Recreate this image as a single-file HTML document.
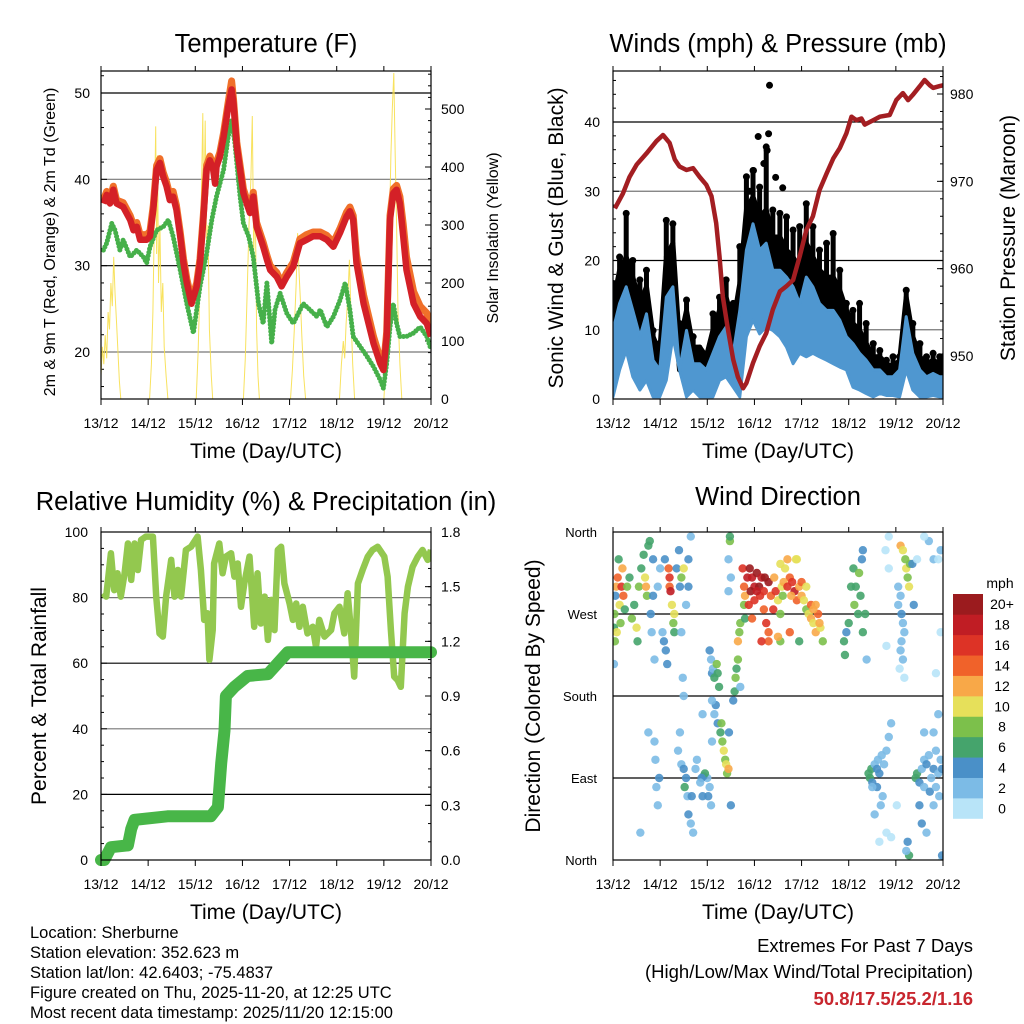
<!DOCTYPE html>
<html><head><meta charset="utf-8"><style>
html,body{margin:0;padding:0;background:#fff;}
svg{display:block;font-family:"Liberation Sans",Arial,sans-serif;}
</style></head><body>
<svg id="chart" width="1024" height="1024" viewBox="0 0 1024 1024" xmlns="http://www.w3.org/2000/svg"></svg>
<script>
// ---------- DATA ----------
const dayLabels=["13/12","14/12","15/12","16/12","17/12","18/12","19/12","20/12"];
const tempTicks=[20,30,40,50];
const solarTicks=[0,100,200,300,400,500];
const windTicks=[0,10,20,30,40];
const pressTicks=[950,960,970,980];
const rhTicks=[0,20,40,60,80,100];
const precipTicks=["0.0","0.3","0.6","0.9","1.2","1.5","1.8"];
const dirTicks=[0,90,180,270,360];
const dirTickLabels=["North","East","South","West","North"];
const speedLabels=["0","2","4","6","8","10","12","14","16","18","20+"];
const speedColors=["#b8e4f8","#7cbbe6","#4a90c8","#45a46c","#7cc04b","#e6e05a","#f8a848","#f0622a","#dd3326","#c01d24","#9b1b1e"];

const tDays=[0.05,0.12,0.19,0.26,0.33,0.47,0.62,0.69,0.76,0.83,0.97,1.04,1.11,1.18,1.25,1.32,1.39,1.46,1.53,1.60,1.68,1.75,1.82,1.92,2.03,2.10,2.17,2.24,2.31,2.38,2.42,2.45,2.52,2.60,2.70,2.77,2.81,2.88,2.95,3.02,3.09,3.16,3.23,3.30,3.44,3.52,3.59,3.73,3.83,3.94,4.08,4.22,4.36,4.50,4.65,4.79,4.93,5.07,5.21,5.28,5.35,5.42,5.57,5.78,5.92,5.99,6.06,6.13,6.20,6.27,6.34,6.41,6.48,6.63,6.77,6.91,7.0];
const tempRed=[37.2,38.2,37.2,38.8,37.2,36.8,35.3,34.1,34.5,33.0,33.0,33.4,36.5,41.1,41.9,40.3,39.2,37.6,38.0,36.5,33.4,30.3,28.0,25.6,27.6,30.3,35.3,41.1,42.2,41.1,39.5,41.5,42.6,44.9,48.4,50.4,48.8,43.8,41.1,38.4,37.2,36.1,38.0,34.5,32.2,30.7,29.5,28.7,27.6,28.7,29.9,32.6,33.0,33.4,33.4,33.0,32.2,33.8,35.7,36.3,35.3,30.3,25.6,21.0,18.7,17.9,21.8,35.3,38.4,38.8,37.2,33.4,29.5,25.6,24.1,23.3,21.8];
const tempOrange=[37.6,38.6,37.7,39.2,37.6,37.3,35.8,34.7,35.0,33.6,33.6,34.0,37.0,41.6,42.4,40.8,39.7,38.2,38.6,37.0,33.9,30.8,28.5,26.0,28.0,30.8,35.8,41.6,42.7,41.6,40.0,42.0,43.1,45.4,49.0,51.4,49.3,44.3,41.6,38.9,37.7,36.6,38.5,35.0,32.7,31.2,30.0,29.2,28.0,29.2,30.4,33.1,33.6,33.9,33.9,33.5,32.7,34.3,36.2,36.8,35.8,31.2,26.6,21.8,19.3,18.3,22.3,35.8,38.9,39.3,38.0,34.8,31.0,27.0,25.3,24.5,22.8];
const tdDays=[0.05,0.12,0.23,0.30,0.40,0.47,0.62,0.76,0.90,0.97,1.04,1.18,1.32,1.43,1.53,1.68,1.82,1.96,2.03,2.10,2.24,2.35,2.45,2.60,2.70,2.77,2.84,2.95,3.02,3.13,3.23,3.34,3.44,3.52,3.62,3.69,3.80,3.94,4.08,4.19,4.29,4.43,4.58,4.65,4.79,4.93,5.07,5.18,5.28,5.35,5.50,5.64,5.78,5.92,5.99,6.06,6.13,6.20,6.27,6.34,6.48,6.63,6.77,6.91,7.0];
const tdVals=[31.8,32.6,34.9,34.1,31.8,33.0,31.0,31.8,31.0,30.3,32.2,34.1,34.5,35.3,33.4,29.5,25.6,22.2,24.9,27.6,31.4,35.3,38.0,41.1,45.0,46.9,44.2,38.0,34.9,33.4,31.0,25.6,23.3,28.0,21.0,24.9,26.8,24.5,23.3,24.5,25.6,24.9,24.1,24.9,22.9,24.1,26.0,28.0,24.9,21.8,20.6,19.5,18.3,16.8,15.8,18.7,22.9,25.6,23.3,21.8,21.8,22.2,22.9,21.8,20.3];
const solarDays=[0.00,0.03,0.06,0.09,0.12,0.15,0.18,0.21,0.24,0.27,0.30,0.33,0.36,0.39,0.42,1.03,1.07,1.10,1.13,1.16,1.18,1.20,1.22,1.25,1.28,1.31,1.34,1.38,1.42,2.02,2.06,2.10,2.13,2.16,2.18,2.21,2.24,2.27,2.30,2.34,2.37,3.02,3.06,3.10,3.14,3.18,3.21,3.24,3.27,3.30,3.33,3.36,4.02,4.06,4.10,4.14,4.17,4.20,4.23,4.26,4.30,4.34,5.06,5.10,5.14,5.17,5.20,5.24,5.27,5.30,5.34,5.38,6.00,6.04,6.08,6.12,6.15,6.18,6.21,6.24,6.27,6.30,6.34,6.38];
const solarVals=[40,90,60,110,70,150,120,200,160,245,180,130,80,30,0,0,60,150,300,470,250,420,200,300,150,200,90,40,0,0,80,200,350,493,300,480,250,300,120,40,0,0,70,180,300,380,488,250,350,120,40,0,0,50,120,200,286,220,170,110,40,0,0,60,100,70,130,180,240,150,60,0,0,60,150,300,420,500,562,420,300,150,60,0];

const pDays=[0.04,0.21,0.35,0.50,0.71,0.92,1.06,1.20,1.31,1.41,1.56,1.70,1.84,1.98,2.09,2.19,2.26,2.33,2.44,2.55,2.65,2.76,2.83,2.97,3.11,3.25,3.39,3.54,3.68,3.82,3.96,4.10,4.24,4.38,4.53,4.67,4.81,4.95,5.06,5.16,5.27,5.34,5.52,5.66,5.87,6.01,6.15,6.26,6.36,6.51,6.61,6.72,6.79,6.93,7.0];
const pVals=[966.9,968.6,970.5,971.9,973.2,974.6,975.3,974.4,972.5,971.7,971.3,971.5,970.5,969.6,968.3,965.2,961.4,956.8,953.0,949.6,947.6,946.3,946.9,949.2,951.1,952.6,955.3,957.4,958.0,958.7,961.4,964.4,966.0,969.0,970.9,972.6,973.8,975.5,977.4,977.0,977.2,976.5,977.0,977.4,977.6,979.3,980.1,979.3,979.9,980.9,981.6,981.0,980.7,980.9,981.0];
const wDays=[0,0.14,0.28,0.42,0.57,0.71,0.85,0.99,1.13,1.27,1.41,1.56,1.70,1.84,1.98,2.12,2.26,2.40,2.55,2.69,2.83,2.97,3.11,3.25,3.39,3.54,3.68,3.82,3.96,4.10,4.24,4.38,4.53,4.67,4.81,4.95,5.09,5.23,5.37,5.52,5.66,5.80,5.94,6.08,6.22,6.36,6.51,6.65,6.79,6.93,7.0];
const windHigh=[9.9,13.8,16.2,12.8,9.0,12.3,5.6,4.2,14.7,16.2,4.2,9.9,5.1,5.1,4.2,6.6,9.0,10.4,6.6,12.8,21.5,25.3,21.5,22.5,18.6,18.6,17.6,16.2,13.8,17.6,16.2,13.8,12.8,12.8,11.4,9.0,8.0,6.6,5.6,4.2,4.2,3.2,3.2,4.2,11.9,6.6,4.2,3.2,3.7,3.2,3.2];
const windLow=[0.3,4.2,7.0,3.2,1.3,2.7,0.3,0.3,2.7,9.0,4.2,0.3,1.3,0.3,0.3,0.3,2.7,3.2,1.7,0.3,9.0,11.4,9.4,10.4,9.9,9.0,7.5,5.1,6.6,6.1,6.6,6.1,5.6,5.1,4.6,4.2,1.7,1.3,0.8,0.3,0.8,0.5,0.5,0.3,4.2,1.3,0.3,0.3,0.5,0.3,0.3];
const gustMid=[13.8,18.6,20.5,17.6,13.8,16.2,9.0,6.6,20.5,22.5,8.0,12.8,7.5,7.5,6.1,9.9,12.8,14.7,10.9,16.7,27.3,29.2,26.3,27.3,23.4,23.4,21.5,20.5,18.6,22.5,20.5,18.6,17.6,17.6,15.7,12.8,10.9,9.9,8.0,6.1,6.1,5.1,4.6,5.6,14.7,9.0,6.1,5.1,5.6,5.1,5.1];
const gustHigh=[16.7,20.5,26.8,20.0,17.2,18.6,9.9,8.0,25.8,25.3,10.9,14.3,9.0,6.6,5.1,12.3,14.7,17.2,13.8,22.0,32.1,33.0,30.6,36.4,27.3,26.8,26.3,24.4,24.9,28.2,24.9,21.5,22.5,23.9,18.6,13.8,12.8,13.8,10.9,8.0,7.0,5.6,6.1,6.1,15.7,10.9,8.0,6.1,6.6,6.1,6.1];
const gustOutDays=[3.32,3.08,3.30,3.27,2.98,3.20,3.45,2.90,3.60];
const gustOutVals=[45.3,37.9,38.3,35.9,33.0,34.0,32.0,30.0,30.5];

const rhDays=[0.04,0.11,0.21,0.28,0.35,0.42,0.50,0.57,0.64,0.71,0.78,0.85,0.95,1.10,1.17,1.24,1.31,1.38,1.49,1.56,1.63,1.70,1.80,1.91,2.05,2.12,2.19,2.26,2.30,2.37,2.40,2.51,2.58,2.65,2.76,2.83,2.90,2.97,3.04,3.15,3.25,3.32,3.39,3.47,3.54,3.61,3.68,3.75,3.82,3.89,4.00,4.07,4.14,4.21,4.28,4.38,4.49,4.56,4.63,4.74,4.88,4.95,5.06,5.16,5.23,5.30,5.37,5.45,5.55,5.66,5.76,5.87,6.01,6.08,6.15,6.22,6.29,6.36,6.44,6.51,6.61,6.72,6.82,6.93,7.0];
const rhVals=[81.3,80.3,93.5,82.3,87.4,80.3,87.4,96.5,85.4,96.5,88.4,97.6,98.6,98.6,80.3,69.1,68.1,80.3,91.5,80.3,88.4,80.3,94.5,95.5,98.6,88.4,73.2,75.2,61.0,70.1,90.4,96.5,87.4,92.5,93.5,86.4,90.4,77.2,84.3,92.5,71.1,87.4,72.1,80.3,67.1,79.3,70.1,94.5,95.5,84.3,78.2,73.2,78.2,71.1,77.2,69.1,71.1,65.0,73.2,68.1,70.1,75.2,77.2,69.1,81.3,70.1,55.9,84.3,88.4,92.5,94.5,95.5,92.5,86.4,70.1,55.9,54.9,52.8,75.2,83.3,89.4,92.5,94.5,91.5,94.5];
const prDays=[0,0.07,0.21,0.57,0.64,0.71,1.41,2.33,2.48,2.55,2.62,2.65,2.83,3.11,3.54,3.75,3.96,7.0];
const prVals=[0,0.0,0.07,0.08,0.17,0.22,0.24,0.24,0.29,0.53,0.71,0.90,0.95,1.01,1.02,1.08,1.14,1.14];

const dirObs=[[0.02,255,6],[0.03,270,8],[0.05,290,4],[0.07,300,12],[0.1,310,14],[0.12,330,6],[0.14,280,10],[0.16,260,8],[0.18,300,16],[0.2,320,12],[0.22,290,14],[0.25,275,6],[0.04,240,8],[0.08,250,10],[0.3,300,8],[0.35,310,6],[0.02,215,2],
[0.4,265,8],[0.45,280,6],[0.5,255,10],[0.52,240,6],[0.55,300,8],[0.6,320,6],[0.65,335,6],[0.68,310,10],[0.7,300,12],[0.72,290,8],[0.75,345,6],[0.78,350,6],[0.8,270,4],[0.82,250,2],[0.85,290,4],[0.85,330,4],[0.88,220,2],[0.88,130,2],[0.9,110,2],[0.92,80,2],[0.95,60,2],[0.98,90,4],[0.58,30,2],[0.75,140,2],[0.95,300,2],[1.0,320,2],
[1.1,330,4],[1.05,250,2],[1.08,240,4],[1.12,230,4],[1.15,215,4],[1.2,310,16],[1.2,300,14],[1.22,295,18],[1.18,320,14],[1.25,280,10],[1.28,260,8],[1.3,270,10],[1.3,250,6],[1.35,320,4],[1.4,340,4],[1.42,300,4],[1.45,310,8],[1.5,320,10],[1.55,280,2],[1.6,300,4],[1.6,330,4],[1.65,355,2],[1.45,250,2],[1.48,200,2],[1.5,180,2],[1.42,140,2],[1.38,120,2],[1.45,105,2],[1.5,100,4],[1.55,90,4],[1.52,80,6],[1.58,70,2],[1.6,50,4],[1.65,40,2],[1.7,30,2],[1.67,70,4],[1.75,100,2],[1.78,110,2],
[2.05,230,4],[2.08,220,2],[2.1,205,4],[2.12,210,2],[2.15,200,6],[2.2,215,8],[2.22,205,6],[2.25,190,6],[2.18,170,4],[2.15,160,2],[2.1,175,2],[2.22,150,4],[2.28,140,6],[2.3,150,8],[2.32,130,8],[2.35,120,10],[2.38,110,8],[2.4,105,10],[2.42,95,8],[2.45,100,12],[2.46,140,4],[2.5,60,4],[2.55,175,4],[2.58,185,6],[2.6,200,8],[2.62,210,6],[2.65,220,8],[2.65,240,12],[2.68,250,8],[2.7,260,8],[2.7,190,2],[2.48,350,8],[2.48,355,6],[2.5,310,2],[2.45,295,2],[2.45,330,2],[2.0,90,2],[2.05,80,2],[2.02,70,4],[2.08,60,2],[1.92,92,4],[1.95,95,6],[1.88,90,4],[1.85,85,2],[1.9,70,4],[1.9,160,2],[2.1,130,2],
[2.75,320,16],[2.78,300,14],[2.8,290,12],[2.78,280,8],[2.8,265,6],[2.85,310,18],[2.9,320,20],[2.95,310,18],[3.0,300,18],[3.0,285,16],[3.05,315,20],[3.1,300,20],[3.12,290,16],[3.15,310,18],[3.2,295,16],[3.2,275,14],[3.25,260,16],[3.3,250,14],[3.3,305,20],[3.35,290,14],[3.4,275,16],[3.42,310,12],[3.45,295,16],[3.5,285,10],[3.55,270,8],[3.58,300,10],[3.6,290,8],[3.65,320,10],[3.7,330,12],[3.75,310,14],[3.8,305,16],[3.85,295,18],[3.9,285,14],[3.95,300,12],[4.0,290,12],[4.05,285,10],[4.1,275,8],[4.15,270,10],[4.2,265,12],[4.25,260,10],[4.3,250,12],[4.35,270,14],[4.4,255,10],[4.45,240,8],[3.55,240,8],[3.95,240,6],[3.5,245,12],[3.75,250,14],[3.9,330,10],[4.0,305,14],[3.3,240,14],[3.15,240,16],[2.95,265,14],[4.1,300,10],[4.2,280,14],[4.3,280,12],[3.88,330,10],[3.55,325,10],[2.92,295,20],[3.05,295,18],[3.22,310,20],[2.88,280,16],[3.62,305,12],[3.7,300,16],[3.78,290,12],[4.25,275,12],[4.38,260,12],
[4.9,240,6],[4.92,225,6],[4.95,250,4],[5.0,260,6],[5.05,300,6],[5.1,320,6],[5.12,280,8],[5.15,300,6],[5.2,270,6],[5.22,315,8],[5.25,290,6],[5.28,330,4],[5.3,340,4],[5.3,250,6],[5.35,270,6],[5.38,220,2],
[5.42,95,6],[5.45,90,6],[5.48,100,6],[5.5,85,4],[5.55,105,2],[5.6,100,4],[5.62,110,2],[5.65,95,4],[5.7,115,2],[5.75,105,2],[5.8,120,2],[5.85,135,2],[5.9,150,2],[5.6,80,4],[5.72,70,2],[5.68,60,2],[5.8,30,0],[5.9,25,0],[5.65,20,0],[5.5,80,2],[5.55,50,2],[5.85,320,0],[5.78,340,0],[5.85,355,0],[5.8,235,0],
[6.1,345,12],[6.15,340,10],[6.2,330,8],[6.22,320,10],[6.25,310,8],[6.28,300,10],[6.3,325,8],[6.1,290,2],[6.05,280,2],[6.12,270,4],[6.15,260,2],[6.18,250,2],[6.12,240,2],[6.1,230,2],[6.08,210,0],[6.15,220,2],[6.18,200,0],[6.05,300,2],[6.35,325,4],[6.38,280,4],[6.25,20,4],[6.28,5,6],[6.22,10,2],[6.02,60,0],
[6.42,90,6],[6.45,95,6],[6.5,85,4],[6.55,100,2],[6.6,110,2],[6.65,105,4],[6.7,115,2],[6.75,90,2],[6.8,100,4],[6.85,120,2],[6.9,95,2],[6.95,110,2],[6.98,100,4],[6.6,80,2],[6.72,75,4],[6.85,80,2],[6.5,60,4],[6.55,40,4],[6.65,30,2],[6.8,60,2],[6.92,70,2],[6.6,140,2],[6.8,140,2],[6.9,160,2],[6.7,350,2],[6.8,330,2],[6.95,340,2],[6.95,250,0],[6.9,330,0],[6.98,0,0],[6.98,5,4],[6.45,330,0],[6.6,355,0],[6.85,205,0]];
const dirDays=dirObs.map(o=>o[0]);
const dirVals=dirObs.map(o=>o[1]);
const dirSpeeds=dirObs.map(o=>o[2]);

// ---------- HELPERS ----------
const NS="http://www.w3.org/2000/svg";
const svg=document.getElementById('chart');
function mk(tag,attrs,parent){const e=document.createElementNS(NS,tag);for(const k in attrs)e.setAttribute(k,attrs[k]);(parent||svg).appendChild(e);return e;}
function txt(s,x,y,size,anchor,parent,extra){const t=mk('text',Object.assign({x:x,y:y,'font-size':size,'text-anchor':anchor||'middle',fill:'#000'},extra||{}),parent);t.textContent=s;return t;}
function lin(d0,d1,r0,r1){return v=>r0+(v-d0)*(r1-r0)/(d1-d0);}

function panel(name,X0,X1,Y0,Y1){
  const g=mk('g',{});
  
  
  const cp=mk('clipPath',{id:'clip-'+name},g);
  mk('rect',{x:X0,y:Y0,width:X1-X0,height:Y1-Y0},cp);
  return g;
}
function frame(g,X0,X1,Y0,Y1,xs){
  const f=mk('rect',{x:X0,y:Y0,width:X1-X0,height:Y1-Y0,fill:'none',stroke:'#000','stroke-width':1.2},g);
  
  
  dayLabels.forEach((l,i)=>{
    const x=xs(i);
    mk('line',{x1:x,x2:x,y1:Y1,y2:Y1+6,stroke:'#000','stroke-width':1},g);
    mk('line',{x1:x,x2:x,y1:Y0,y2:Y0-5,stroke:'#000','stroke-width':1},g);
    const t=txt(l,x,Y1+29,14,'middle',g);
    
    
  });
  const xt=txt('Time (Day/UTC)',(X0+X1)/2,Y1+59,21,'middle',g);
  
  
}
function hgrid(g,X0,X1,y,dark){mk('line',{x1:X0,x2:X1,y1:y,y2:y,stroke:dark?'#000':'#777','stroke-width':1.2},g);}
function pathFrom(xs,ys,xa,ya){return xa.map((v,i)=>(i?'L':'M')+xs(v).toFixed(1)+','+ys(ya[i]).toFixed(1)).join('');}

// ---------- PANEL 1: TEMPERATURE ----------
(function(){
  const X0=101,X1=431,Y0=71,Y1=399;
  const x=lin(0,7,X0,X1), yT=lin(50,20,93,352), yS=lin(0,500,399,109);
  const g=panel('temperature-panel',X0,X1,Y0,Y1);
  const t=txt('Temperature (F)',(X0+X1)/2,52,25.5,'middle',g);
  
  
  tempTicks.forEach(v=>{hgrid(g,X0,X1,yT(v),v%20==0?false:true);const l=txt(String(v),90,yT(v)+5,14,'end',g);});
  for(let v=16;v<=52;v+=2){mk('line',{x1:X0,x2:X0+(v%10==0?6:3),y1:yT(v),y2:yT(v),stroke:'#000'},g);}
  solarTicks.forEach(v=>{mk('line',{x1:X1,x2:X1-6,y1:yS(v),y2:yS(v),stroke:'#000'},g);const l=txt(String(v),441,yS(v)+5,14,'start',g);});
  for(let v=20;v<=560;v+=20){mk('line',{x1:X1,x2:X1-3,y1:yS(v),y2:yS(v),stroke:'#000'},g);}
  const c=mk('g',{'clip-path':'url(#clip-temperature-panel)'},g);
  const sol=mk('path',{d:pathFrom(x,yS,solarDays,solarVals),fill:'none',stroke:'#f7df4e','stroke-width':1,opacity:0.9},c);
  
  
  const td=mk('path',{d:pathFrom(x,yT,tdDays,tdVals),fill:'none',stroke:'#46b04a','stroke-width':5,'stroke-linecap':'round','stroke-linejoin':'round','stroke-dasharray':'0 3.5'},c);
  
  
  const or=mk('path',{d:pathFrom(x,yT,tDays,tempOrange),fill:'none',stroke:'#f0702a','stroke-width':7,'stroke-linejoin':'round'},c);
  
  
  const rd=mk('path',{d:pathFrom(x,yT,tDays,tempRed),fill:'none',stroke:'#d42027','stroke-width':6.5,'stroke-linejoin':'round'},c);
  
  
  frame(g,X0,X1,Y0,Y1,x);
  const a=txt('2m & 9m T (Red, Orange) & 2m Td (Green)',0,0,16,'middle',g,{transform:'translate(55,242) rotate(-90)'});
  
  
  const b=txt('Solar Insolation (Yellow)',0,0,16,'middle',g,{transform:'translate(498,238) rotate(-90)'});
  
  
})();

// ---------- PANEL 2: WINDS ----------
(function(){
  const X0=613,X1=943,Y0=71,Y1=399;
  const x=lin(0,7,X0,X1), yW=lin(0,40,399,122), yP=lin(950,980,356,94);
  const g=panel('winds-panel',X0,X1,Y0,Y1);
  const t=txt('Winds (mph) & Pressure (mb)',(X0+X1)/2,52,25.5,'middle',g);
  
  
  windTicks.forEach(v=>{if(v>0)hgrid(g,X0,X1,yW(v),v%20==0);const l=txt(String(v),600,yW(v)+5,14,'end',g);});
  for(let v=2;v<=46;v+=2){mk('line',{x1:X0,x2:X0+(v%10==0?6:3),y1:yW(v),y2:yW(v),stroke:'#000'},g);}
  pressTicks.forEach(v=>{mk('line',{x1:X1,x2:X1-6,y1:yP(v),y2:yP(v),stroke:'#000'},g);const l=txt(String(v),950,yP(v)+5,14,'start',g);});
  for(let v=946;v<=982;v+=2){mk('line',{x1:X1,x2:X1-3,y1:yP(v),y2:yP(v),stroke:'#000'},g);}
  const c=mk('g',{'clip-path':'url(#clip-winds-panel)'},g);
  let d='M'+wDays.map((v,i)=>x(v).toFixed(1)+','+yW(gustMid[i]).toFixed(1)).join('L');
  d+='L'+wDays.slice().reverse().map((v,j)=>{const i=wDays.length-1-j;return x(v).toFixed(1)+','+yW(windHigh[i]).toFixed(1);}).join('L')+'Z';
  const gm=mk('path',{d:d,fill:'#000',stroke:'#000','stroke-width':5,'stroke-linejoin':'round'},c);
  
  
  wDays.forEach((v,i)=>{
    const ln=mk('line',{x1:x(v),x2:x(v),y1:yW(gustMid[i]),y2:yW(gustHigh[i]),stroke:'#000','stroke-width':5,'stroke-linecap':'round'},c);
    
    
    const p=mk('circle',{cx:x(v),cy:yW(gustHigh[i]),r:3.5,fill:'#000'},c);
    
    
  });
  gustOutDays.forEach((v,i)=>{
    const p=mk('circle',{cx:x(v),cy:yW(gustOutVals[i]),r:3.5,fill:'#000'},c);
    
    
  });
  let d2='M'+wDays.map((v,i)=>x(v).toFixed(1)+','+yW(windHigh[i]).toFixed(1)).join('L');
  d2+='L'+wDays.slice().reverse().map((v,j)=>{const i=wDays.length-1-j;return x(v).toFixed(1)+','+yW(windLow[i]).toFixed(1);}).join('L')+'Z';
  const wb=mk('path',{d:d2,fill:'#4f97d0',stroke:'#4f97d0','stroke-width':3,'stroke-linejoin':'round'},c);
  
  
  const pr=mk('path',{d:pathFrom(x,yP,pDays,pVals),fill:'none',stroke:'#a31e22','stroke-width':4.5,'stroke-linejoin':'round'},c);
  
  
  frame(g,X0,X1,Y0,Y1,x);
  const a=txt('Sonic Wind & Gust (Blue, Black)',0,0,21,'middle',g,{transform:'translate(563,238) rotate(-90)'});
  
  
  const b=txt('Station Pressure (Maroon)',0,0,21,'middle',g,{transform:'translate(1015,238) rotate(-90)'});
  
  
})();

// ---------- PANEL 3: RH & PRECIP ----------
(function(){
  const X0=101,X1=431,Y0=532,Y1=860;
  const x=lin(0,7,X0,X1), yR=lin(0,100,860,532), yPr=lin(0,1.8,860,532);
  const g=panel('humidity-panel',X0,X1,Y0,Y1);
  const t=txt('Relative Humidity (%) & Precipitation (in)',266,510,25.5,'middle',g);
  
  
  rhTicks.forEach(v=>{if(v>0&&v<100)hgrid(g,X0,X1,yR(v),v%40==0?false:true);const l=txt(String(v),88,yR(v)+5,14,'end',g);});
  for(let v=5;v<100;v+=5){mk('line',{x1:X0,x2:X0+(v%20==0?6:3),y1:yR(v),y2:yR(v),stroke:'#000'},g);}
  precipTicks.forEach(s=>{const v=parseFloat(s);mk('line',{x1:X1,x2:X1-6,y1:yPr(v),y2:yPr(v),stroke:'#000'},g);const l=txt(s,441,yPr(v)+5,14,'start',g);});
  for(let v=0.1;v<1.8;v+=0.1){mk('line',{x1:X1,x2:X1-3,y1:yPr(v),y2:yPr(v),stroke:'#000'},g);}
  const c=mk('g',{'clip-path':'url(#clip-humidity-panel)'},g);
  const rh=mk('path',{d:pathFrom(x,yR,rhDays,rhVals),fill:'none',stroke:'#93c84f','stroke-width':6.5,'stroke-linejoin':'round'},c);
  
  
  const pr=mk('path',{d:pathFrom(x,yPr,prDays,prVals),fill:'none',stroke:'#48b648','stroke-width':12,'stroke-linejoin':'round','stroke-linecap':'round'},g);
  
  
  frame(g,X0,X1,Y0,Y1,x);
  const a=txt('Percent & Total Rainfall',0,0,21,'middle',g,{transform:'translate(46,696) rotate(-90)'});
  
  
})();

// ---------- PANEL 4: WIND DIRECTION ----------
(function(){
  const X0=613,X1=943,Y0=532,Y1=860;
  const x=lin(0,7,X0,X1), yD=lin(0,360,860,532);
  const g=panel('wind-direction-panel',X0,X1,Y0,Y1);
  const t=txt('Wind Direction',(X0+X1)/2,505,25.5,'middle',g);
  
  
  dirTicks.forEach((v,i)=>{if(v>0&&v<360)hgrid(g,X0,X1,yD(v),true);mk('line',{x1:X0,x2:X0+6,y1:yD(v),y2:yD(v),stroke:'#000'},g);const l=txt(dirTickLabels[i],597,yD(v)+5,13,'end',g);});
  const c=mk('g',{'clip-path':'url(#clip-wind-direction-panel)'},g);
  dirDays.forEach((v,i)=>{
    const bin=Math.min(10,Math.floor(dirSpeeds[i]/2));
    const p=mk('circle',{cx:x(v),cy:yD(dirVals[i]),r:4.2,fill:speedColors[bin],opacity:0.9},c);
    
    
  });
  frame(g,X0,X1,Y0,Y1,x);
  const a=txt('Direction (Colored By Speed)',0,0,21,'middle',g,{transform:'translate(540,696) rotate(-90)'});
  
  
  const cb=mk('g',{});
  
  
  const m=txt('mph',1000,588,14,'middle',cb);
  
  
  const h=224.5/11;
  speedLabels.forEach((s,i)=>{
    const yy=594+(10-i)*h;
    const r=mk('rect',{x:953,y:yy,width:30,height:h+0.3,fill:speedColors[i]},cb);
    
    
    const l=txt(s,1002,yy+h/2+5,14,'middle',cb);
    
    
  });
})();

// ---------- FOOTER TEXT ----------
(function(){
  const g=mk('g',{});
  
  
  ["Location: Sherburne","Station elevation: 352.623 m","Station lat/lon: 42.6403; -75.4837","Figure created on Thu, 2025-11-20, at 12:25 UTC","Most recent data timestamp: 2025/11/20 12:15:00"].forEach((s,i)=>{
    const t=txt(s,30,938+i*20,16.5,'start',g);
    
    
  });
  const e=mk('g',{});
  
  
  const a=txt('Extremes For Past 7 Days',973,952,18.5,'end',e);
  
  
  const b=txt('(High/Low/Max Wind/Total Precipitation)',973,978,18.5,'end',e);
  
  
  const c=txt('50.8/17.5/25.2/1.16',973,1005,18.5,'end',e,{fill:'#c8262e','font-weight':'bold'});
  
  
})();
</script>
</body></html>
